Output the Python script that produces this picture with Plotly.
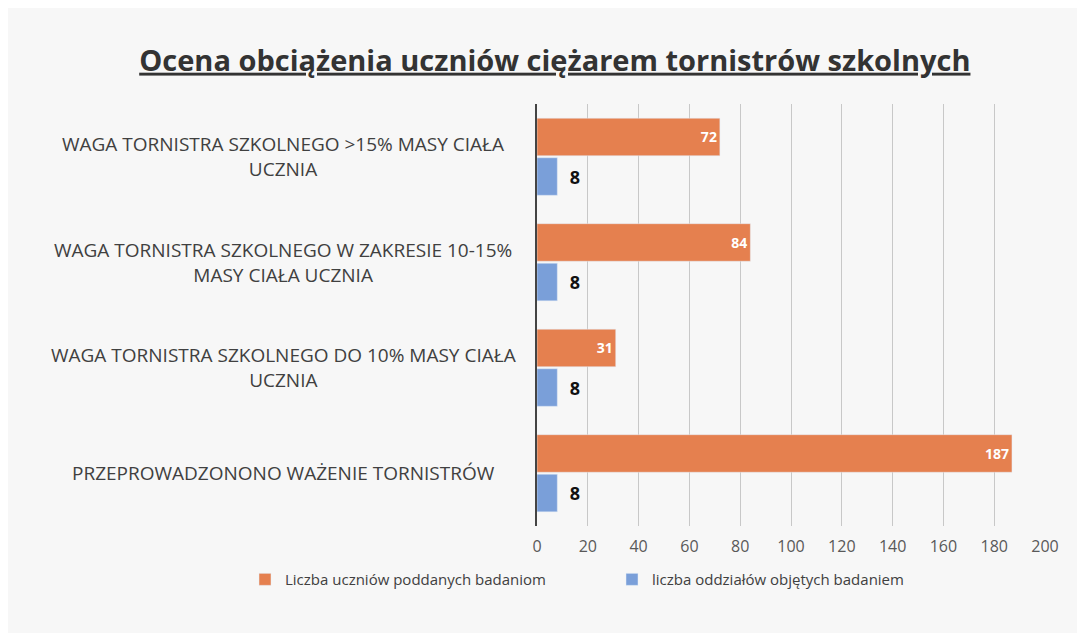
import plotly.graph_objects as go

# categories listed bottom-to-top (plotly puts the first category at the bottom)
categories = [
    "PRZEPROWADZONONO WAŻENIE TORNISTRÓW",
    "WAGA TORNISTRA SZKOLNEGO DO 10% MASY CIAŁA<br>UCZNIA",
    "WAGA TORNISTRA SZKOLNEGO W ZAKRESIE 10-15%<br>MASY CIAŁA UCZNIA",
    "WAGA TORNISTRA SZKOLNEGO >15% MASY CIAŁA<br>UCZNIA",
]
students = [187, 31, 84, 72]
classes = [8, 8, 8, 8]
x_ticks = [0, 20, 40, 60, 80, 100, 120, 140, 160, 180, 200]

ORANGE = "#E5804F"
BLUE = "#7A9FD9"
FONT = "Open Sans, sans-serif"

fig = go.Figure()
# blue first so it sits below the orange bar inside each group
fig.add_trace(go.Bar(
    y=categories, x=classes, orientation="h",
    name="liczba oddziałów objętych badaniem",
    marker_color=BLUE, legend="legend2",
    text=classes, texttemplate="  %{x}", textposition="outside",
    textfont=dict(family=FONT, size=18, color="#111111", weight="bold"),
    cliponaxis=False,
))
fig.add_trace(go.Bar(
    y=categories, x=students, orientation="h",
    name="Liczba uczniów poddanych badaniom",
    marker_color=ORANGE, legend="legend",
    text=students, textposition="inside", insidetextanchor="end",
    textfont=dict(family=FONT, size=14, color="white", weight="bold"),
))

# centred, wrapped category labels
for cat in categories:
    fig.add_annotation(
        x=-0.5, y=cat, xref="paper", yref="y",
        text=cat, showarrow=False, xanchor="center", align="center",
        font=dict(family=FONT, size=19, color="#404040"),
    )

legend_style = dict(
    orientation="h", xanchor="left", xref="container",
    yref="container", y=0.097, yanchor="middle",
    font=dict(family=FONT, size=15, color="#404040"),
    itemwidth=30, bgcolor="rgba(0,0,0,0)",
)

fig.update_layout(
    width=1085, height=633,
    margin=dict(l=529, r=48, t=96, b=115, autoexpand=False),
    paper_bgcolor="#f7f7f7", plot_bgcolor="rgba(0,0,0,0)",
    barmode="group", bargap=0.25, bargroupgap=0.05,
    font=dict(family=FONT, color="#404040"),
    title=dict(
        text="<u>Ocena obciążenia uczniów ciężarem tornistrów szkolnych</u>",
        x=0.504, xanchor="center", y=0.917, yanchor="middle",
        font=dict(family=FONT, size=29, color="#333333", weight="bold"),
    ),
    legend=dict(legend_style, x=237 / 1085),
    legend2=dict(legend_style, x=604 / 1085),
    showlegend=True,
)
fig.update_xaxes(
    range=[0, 200], tickvals=x_ticks, showgrid=True, gridcolor="#c8c8c8",
    zeroline=False, showline=False, ticks="outside", ticklen=6,
    tickcolor="rgba(0,0,0,0)",
    tickfont=dict(family=FONT, size=16, color="#595959"),
)
fig.update_yaxes(
    showticklabels=False, showline=True, linecolor="#444444", linewidth=2,
    showgrid=False, ticks="",
)

fig.write_html("out.html")
